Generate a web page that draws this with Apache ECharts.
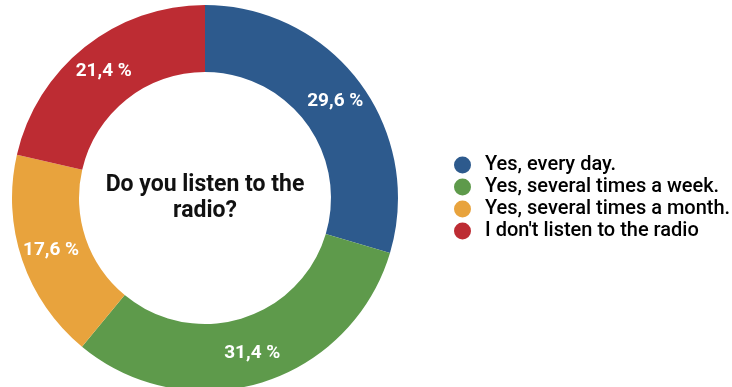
<!DOCTYPE html>
<html>
<head>
<meta charset="utf-8">
<script src="https://cdn.jsdelivr.net/npm/echarts@6/dist/echarts.min.js"></script>
<style>
html,body{margin:0;padding:0;background:#fff;}
#chart{width:732px;height:387px;}
</style>
</head>
<body>
<div id="chart"></div>
<script>
const categories = ['Yes, every day.', 'Yes, several times a week.', 'Yes, several times a month.', "I don't listen to the radio"];
const values = [29.6, 31.4, 17.6, 21.4];
const colors = ['#2d5a8d', '#5e9a4b', '#e8a33d', '#bd2c33'];
const centerTitle = 'Do you listen to the\nradio?';

const chart = echarts.init(document.getElementById('chart'));
chart.setOption({
  backgroundColor: '#fff',
  animation: false,
  color: colors,
  legend: {
    orient: 'vertical',
    left: 449,
    top: 150,
    icon: 'circle',
    itemWidth: 17,
    itemHeight: 17,
    itemGap: 2,
    textStyle: {
      fontFamily: 'Roboto',
      fontSize: 20,
      fontWeight: 500,
      color: '#000',
      padding: [0, 0, 0, 9]
    },
    data: categories
  },
  graphic: [{
    type: 'text',
    x: 205,
    y: 198,
    z: 100,
    style: {
      text: centerTitle,
      align: 'center',
      verticalAlign: 'middle',
      fontFamily: 'Roboto',
      fontWeight: 'bold',
      fontSize: 23,
      lineHeight: 26,
      fill: '#111'
    }
  }],
  series: [{
    type: 'pie',
    center: [205, 198],
    radius: [126, 193],
    startAngle: 90,
    clockwise: true,
    avoidLabelOverlap: false,
    label: {
      show: true,
      position: 'inside',
      color: '#fff',
      fontFamily: 'Roboto',
      fontWeight: 'bold',
      fontSize: 19,
      formatter: p => p.value.toFixed(1).replace('.', ',') + ' %'
    },
    labelLine: { show: false },
    emphasis: { disabled: true },
    itemStyle: { borderWidth: 0 },
    data: categories.map((c, i) => ({ name: c, value: values[i] }))
  }]
});
</script>
</body>
</html>
